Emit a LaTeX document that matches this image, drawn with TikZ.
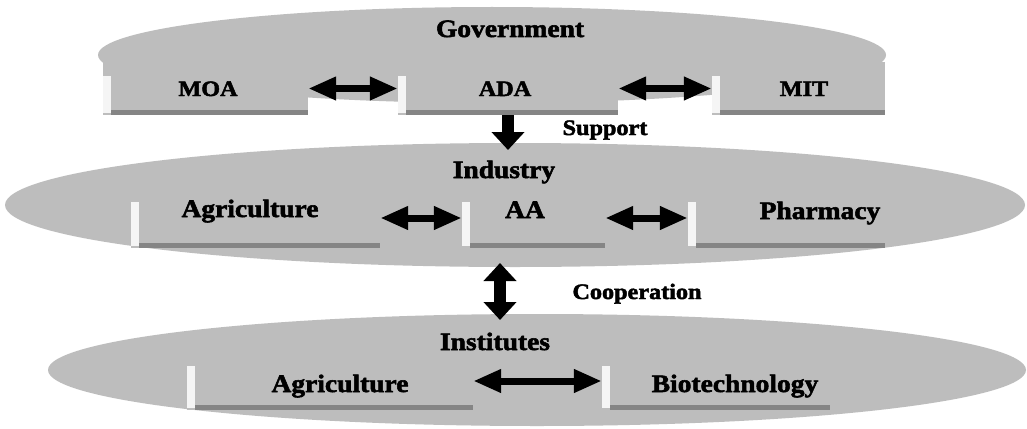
\documentclass[tikz,border=0pt]{standalone}
\usepackage{fontspec}
\setmainfont{Liberation Serif}
\newfontfamily\labelfont{Liberation Serif Bold}[FakeStretch=1.1, FakeBold=2.2]
\usetikzlibrary{arrows.meta,shapes.geometric}
\definecolor{plategray}{gray}{0.74}
\begin{document}
\begin{tikzpicture}[x=1pt,y=-1pt,
  plate/.style={ellipse, fill=plategray, draw=none, inner sep=0pt},
  unit/.style={rectangle, fill=plategray, draw=none, inner sep=0pt},
  big/.style={font=\labelfont\fontsize{25}{30}\selectfont, inner sep=0pt, anchor=base},
  mid/.style={font=\labelfont\fontsize{22}{26}\selectfont, inner sep=0pt, anchor=base},
  link/.style={line width=7pt, {Triangle[length=28pt,width=22pt]}-{Triangle[length=28pt,width=22pt]}},
  flow/.style={line width=12pt, -{Triangle[length=18pt,width=32pt]}},
  coop/.style={line width=12pt, {Triangle[length=18pt,width=32pt]}-{Triangle[length=18pt,width=32pt]}}
]
\useasboundingbox (0,0) rectangle (1027,428);
\fill[white] (0,0) rectangle (1027,428);

% the three levels
\node[plate, minimum width=788pt, minimum height=96pt] (gov) at (492,55) {};
\node[plate, minimum width=1020pt, minimum height=124pt] (ind) at (515,205) {};
\node[plate, minimum width=978pt, minimum height=112pt] (inst) at (537,370) {};

% bodies on each level
\node[unit, minimum width=205pt, minimum height=53pt] (moa) at (205.5,88.5) {};
\node[unit, minimum width=220pt, minimum height=53pt] (ada) at (508,88.5) {};
\node[unit, minimum width=173pt, minimum height=53pt] (mit) at (798.5,88.5) {};
\node[unit, minimum width=249pt, minimum height=60pt] (agri) at (255.5,218) {};
\node[unit, minimum width=143pt, minimum height=60pt] (aa) at (533.5,218) {};
\node[unit, minimum width=197pt, minimum height=60pt] (pharm) at (786.5,218) {};
\node[unit, minimum width=286pt, minimum height=58pt] (agrib) at (330,381) {};
\node[unit, minimum width=228pt, minimum height=58pt] (bio) at (716,381) {};

% bevel: light left edge, dark lower edge
\foreach \b in {moa,ada,mit,agri,aa,pharm,agrib,bio}{
  \fill[white!85!plategray] ([yshift=-14pt]\b.north west) rectangle ([xshift=8pt,yshift=2pt]\b.south west);
  \fill[black!48] ([xshift=8pt,yshift=5pt]\b.south west) rectangle (\b.south east);
}

% labels
\node[big] (tgov) at (510,37) {Government};
\node[mid] (tmoa) at (208,96) {MOA};
\node[mid] (tada) at (505,96) {ADA};
\node[mid] (tmit) at (804,96) {MIT};
\node[mid] (tsup) at (605,135) {Support};
\node[big] (tind) at (504,178) {Industry};
\node[big] (tagri) at (250,217) {Agriculture};
\node[big] (taa) at (525,218) {AA};
\node[big] (tpharm) at (820,219) {Pharmacy};
\node[mid] (tcoop) at (637,299) {Cooperation};
\node[big] (tinst) at (495,350) {Institutes};
\node[big] (tagrib) at (340,392) {Agriculture};
\node[big] (tbio) at (735,392) {Biotechnology};

% connectors
\draw[link] (moa.east) -- (ada.west);
\draw[link] (ada.east) -- (mit.west);
\coordinate (suptip) at (508,150);
\draw[flow] (ada.south) -- (suptip);
\draw[link] (agri.east) -- (aa.west);
\draw[link] (aa.east) -- (pharm.west);
\coordinate (ctop) at (500,263);
\coordinate (cbot) at (500,320);
\draw[coop] (ctop) -- (cbot);
\draw[link] (agrib.east) -- (bio.west);
\end{tikzpicture}
\end{document}
